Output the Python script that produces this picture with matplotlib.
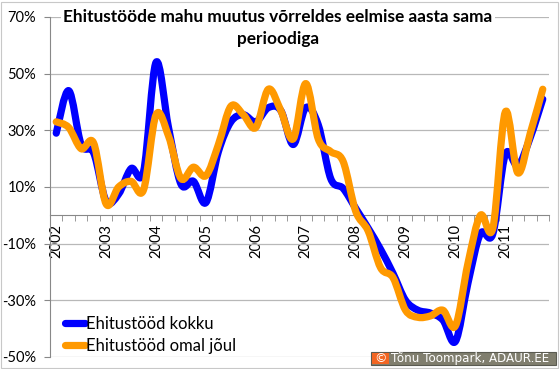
import numpy as np
import matplotlib
matplotlib.use('Agg')
import matplotlib.pyplot as plt
from matplotlib.path import Path
from matplotlib.patches import PathPatch, Rectangle
from matplotlib.lines import Line2D

# quarterly change vs same period a year earlier, %, 2002 Q1 .. 2011 Q4
kokku = [29, 44, 25, 22, 5, 7.5, 16.5, 15.5, 54, 31,
         11, 12, 4.5, 22.5, 33, 35.5, 33, 38, 37, 25,
         38, 32, 13, 9.5, 2.5, -4.5, -12, -20.5, -30, -33.5,
         -34.5, -37, -44.5, -24, -6.5, -6.5, 21.5, 17.5, 27.5, 41]
omal_joul = [33, 31, 23.5, 25.5, 4, 10, 12, 9, 35.5, 28,
             13, 17, 14, 25, 38.5, 35.5, 31, 44.5, 37, 27,
             46.5, 27, 22.5, 19, 1.5, -5.5, -18.5, -22, -33.5, -36,
             -35.5, -33.5, -39, -17, 0, -4.5, 36.5, 15, 29, 44.5]
years = ['2002', '2003', '2004', '2005', '2006', '2007', '2008', '2009', '2010', '2011']
series_names = ['Ehitustööd kokku', 'Ehitustööd omal jõul']
colors = ['#0000ff', '#ff9900']

plt.rcParams['font.family'] = ['Lato', 'DejaVu Sans']


def smooth_path(xs, ys):
    # bezier smoothing like the spreadsheet "smoothed line" option
    pts = np.column_stack([xs, ys]).astype(float)
    n = len(pts)
    verts = [pts[0]]
    codes = [Path.MOVETO]
    for i in range(n - 1):
        p0 = pts[max(i - 1, 0)]
        p1 = pts[i]
        p2 = pts[i + 1]
        p3 = pts[min(i + 2, n - 1)]
        verts += [p1 + (p2 - p0) / 6, p2 - (p3 - p1) / 6, p2]
        codes += [Path.CURVE4] * 3
    return Path(verts, codes)


fig = plt.figure(figsize=(5.6, 3.69), dpi=100)
ax = fig.add_axes([50 / 560, 12 / 369, 499 / 560, 340 / 369])

# spine position first, it resets the tick settings
for s in ['top', 'right']:
    ax.spines[s].set_visible(False)
ax.spines['bottom'].set_position(('data', 0))
ax.spines['bottom'].set_color('#888888')
ax.spines['left'].set_color('#888888')

x = np.arange(len(kokku))
for vals, c in zip([kokku, omal_joul], colors):
    ax.add_patch(PathPatch(smooth_path(x, vals), fill=False, edgecolor=c, lw=5.2,
                           capstyle='round', joinstyle='round', zorder=3))

ax.set_xlim(-0.5, len(kokku) - 0.5)
ax.set_ylim(-50, 70)
ax.set_yticks(np.arange(-50, 71, 20))
ax.set_yticklabels([f'{v}%' for v in range(-50, 71, 20)], fontsize=10.5)
ax.yaxis.grid(True, color='#b8b8b8', lw=0.9)
ax.set_axisbelow(True)

ax.set_xticks(np.arange(0, len(kokku), 4))
ax.set_xticklabels(years, rotation=90, fontsize=10.5, va='top', ha='center')
ax.set_xticks(np.arange(-0.5, len(kokku), 1), minor=True)
ax.tick_params(axis='x', which='major', length=0, pad=6)
ax.tick_params(axis='x', which='minor', length=4, color='#888888', direction='out')
ax.tick_params(axis='y', length=4, color='#888888', pad=6)

fig.text(278 / 560, 1 - 28 / 369, 'Ehitustööde mahu muutus võrreldes eelmise aasta sama\nperioodiga',
         ha='center', va='center', fontsize=12.4, fontweight='bold', linespacing=1.4,
         bbox=dict(facecolor='white', edgecolor='none', pad=2))

handles = [Line2D([], [], color=c, lw=5.2, solid_capstyle='round') for c in colors]
ax.legend(handles, series_names, loc='lower left', bbox_to_anchor=(0.0, -0.035),
          frameon=False, fontsize=12, handlelength=1.2, handletextpad=0.05,
          labelspacing=0.35)

# copyright box
fig.patches.append(Rectangle((371 / 560, 4 / 369), 185 / 560, 13 / 369,
                             transform=fig.transFigure, facecolor='#807e6e',
                             edgecolor='#5a5a50', lw=0.8))
fig.patches.append(Rectangle((372 / 560, 5 / 369), 17 / 560, 11 / 369,
                             transform=fig.transFigure, facecolor='#f26522',
                             edgecolor='none'))
fig.text(380.5 / 560, 10.5 / 369, '©', color='white', fontsize=9,
         family='DejaVu Sans', ha='center', va='center')
fig.text(391 / 560, 10.5 / 369, 'Tõnu Toompark, ADAUR.EE', color='white', fontsize=8.6,
         family='DejaVu Sans', ha='left', va='center')

# chart border
fig.patches.append(Rectangle((1 / 560, 1 / 369), 557 / 560, 366 / 369,
                             transform=fig.transFigure, facecolor='none',
                             edgecolor='#c8c8c8', lw=0.8))

fig.savefig('out.png', dpi=100)
